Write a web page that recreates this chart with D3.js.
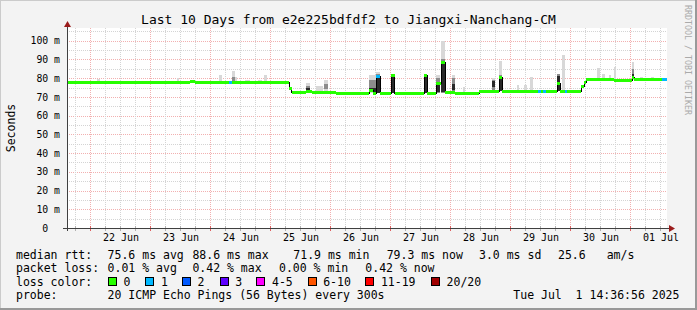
<!DOCTYPE html>
<html>
<head>
<meta charset="utf-8">
<script src="https://cdn.jsdelivr.net/npm/d3@7"></script>
<style>
body { margin: 0; background: #fff; }
svg text { font-family: "DejaVu Sans Mono", monospace; white-space: pre; }
</style>
</head>
<body>
<script>
let width = 697
let height = 310

let title = "Last 10 Days from e2e225bdfdf2 to Jiangxi-Nanchang-CM"
let startTime = new Date(2025, 5, 21, 14, 36, 56)
let endTime = new Date(2025, 6, 1, 14, 36, 56)

// median rtt (ms), step changes: [hours after start, value]
let medianSteps = [
    [0, 77.8], [49.2, 78.3], [51.2, 77.8], [88.9, 74.7], [89.9, 72.4],
    [95.6, 73.4], [98, 72.4], [107.6, 72.0], [120.8, 73.8], [122.4, 72.2],
    [123.6, 81.0], [125.2, 72.2], [129.6, 81.6], [131, 72.2], [142.9, 81.5],
    [144.1, 72.3], [147.6, 77.4], [149.6, 88.8], [151.2, 72.4], [155, 71.9],
    [164.8, 73.4], [171, 73.1], [172.9, 80.5], [174.1, 73.1], [196, 77.5],
    [197.3, 73.3], [205.6, 75.7], [206.8, 77.9], [207.6, 79.7], [218.8, 79.1],
    [226, 80.7], [226.9, 79.5], [240, 79.5]
]

// hours with lost pings: [from, to, loss colour index]
let lossRuns = [
    [64.9, 66.1, 1], [123.6, 125.2, 1], [188.3, 189.6, 1],
    [190.4, 191.6, 1], [199.3, 200, 1], [238, 240, 1]
]

// smoke: [from, to, min, max, mid lo, mid hi, dark lo, dark hi]
let smoke = [
    [11.9, 13.2, 77, 79.3], [19.2, 20, 77, 78.6], [30.4, 31.6, 77, 78.6],
    [43.9, 44.9, 77, 79.9], [51.9, 53.2, 77, 78.7], [60.9, 62.1, 77, 81.9],
    [65.9, 67.2, 77, 83.6, 78, 80.5], [67.2, 68, 77, 80.5], [71.2, 73.2, 77, 79],
    [76.4, 78, 77, 79], [78.9, 80.1, 77, 81.5],
    [95.6, 97, 72, 77.6, 72.8, 76, 73, 74.5], [99.6, 102.4, 72, 75.8],
    [102.8, 104.2, 72, 78.8, 74, 77],
    [120.8, 123.6, 72, 81.7, 72.5, 79, 72.5, 75],
    [123.6, 125.2, 72, 83.3, 72, 82, 72.3, 80.4],
    [129.6, 131, 72, 82.2, 72, 82.2, 72.3, 81.4],
    [142.9, 144.1, 72, 81.9, 72, 81.9, 72.3, 81.3],
    [147.6, 149.2, 72, 81.7, 72.2, 80, 72.4, 77.2],
    [149.6, 151.2, 72, 99.8, 72.2, 90, 72.4, 88.5],
    [154, 155.2, 72, 81.7, 72.5, 80, 73.5, 77],
    [158.3, 159.2, 72, 75.3],
    [169.9, 171.1, 73, 80, 73.5, 79, 75.5, 78.5],
    [172.9, 174.1, 73, 89, 73, 81.5, 73.3, 80],
    [179.9, 180.8, 73, 76.2], [182.8, 183.9, 73, 76.4], [185.2, 186.3, 73, 80.6],
    [196, 197.3, 73, 82.2, 73, 82.2, 73.2, 81],
    [198, 199.2, 73, 92.5],
    [212, 213.2, 79, 85.4], [214, 215.2, 79, 82.4], [216.8, 217.7, 79, 81.8],
    [218.8, 219.7, 79, 86],
    [226, 226.9, 79, 88.6, 79.3, 85, 79.5, 82.5],
    [229.2, 230.3, 79, 80.5], [233.6, 234.7, 79, 80.4]
]

let lossLabels = ["0", "1", "2", "3", "4-5", "6-10", "11-19", "20/20"]
let lossColors = ["#26ff00", "#00b8ff", "#0059ff", "#5e00ff", "#ff00ff", "#ff5500", "#ff0000", "#a00000"]
let rttStats = ["75.6 ms avg", "88.6 ms max", "71.9 ms min", "79.3 ms now", "3.0 ms sd", "25.6", "am/s"]
let lossStats = ["0.01 % avg", "0.42 % max", "0.00 % min", "0.42 % now"]
let probeText = "20 ICMP Echo Pings (56 Bytes) every 300s"
let stampText = "Tue Jul  1 14:36:56 2025"

let hourToDate = h => new Date(startTime.getTime() + h * 3600e3)

let svg = d3.select("body")
    .append("svg")
    .attr("width", width)
    .attr("height", height)

// background + 3d frame
svg.append("rect").attr("width", width).attr("height", height).attr("fill", "#f3f3f3")
svg.append("path").attr("d", `M0,${height} V0 H${width}`).attr("fill", "none")
    .attr("stroke", "#cbcbcb").attr("stroke-width", 2)
svg.append("path").attr("d", `M0,${height - 1} H${width - 1} V0`).attr("fill", "none")
    .attr("stroke", "#999").attr("stroke-width", 2)

let x = d3.scaleTime().domain([startTime, endTime]).range([67, 667])
let y = d3.scaleLinear().domain([0, 106.8]).range([228, 28])

svg.append("rect").attr("x", 67).attr("y", 28).attr("width", 600).attr("height", 200).attr("fill", "#fff")

let grid = svg.append("g").attr("shape-rendering", "crispEdges")
let minorCol = "#d4d4d4", majorCol = "#f2b0b0"

d3.range(5, 106, 5).forEach(v => {
    let yy = Math.round(y(v)) + 0.5
    grid.append("line").attr("x1", 67).attr("x2", 667).attr("y1", yy).attr("y2", yy)
        .attr("stroke", v % 10 == 0 ? majorCol : minorCol).attr("stroke-dasharray", "1,1")
})
d3.timeHour.every(6).range(startTime, endTime).forEach(t => {
    let xx = Math.round(x(t)) + 0.5
    let major = t.getHours() == 0
    grid.append("line").attr("x1", xx).attr("x2", xx).attr("y1", 28).attr("y2", 228)
        .attr("stroke", major ? majorCol : minorCol).attr("stroke-dasharray", "1,1")
    grid.append("line").attr("x1", xx).attr("x2", xx).attr("y1", 226).attr("y2", 231)
        .attr("stroke", major ? "#e06060" : "#b0b0b0")
})

// smoke
let sm = svg.append("g").attr("shape-rendering", "crispEdges")
smoke.forEach(d => {
    let x0 = x(hourToDate(d[0])), x1 = x(hourToDate(d[1]))
    let layer = (lo, hi, col) => sm.append("rect")
        .attr("x", x0).attr("width", x1 - x0)
        .attr("y", y(hi)).attr("height", y(lo) - y(hi)).attr("fill", col)
    layer(d[2], d[3], "#d8d8d8")
    if (d.length > 4) layer(d[4], d[5], "#8c8c8c")
    if (d.length > 6) layer(d[6], d[7], "#2a2a2a")
})

// median black line
let line = d3.line()
    .x(d => x(hourToDate(d[0])))
    .y(d => Math.round(y(d[1])) + 0.5)
    .curve(d3.curveStepAfter)
svg.append("path").datum(medianSteps).attr("d", line)
    .attr("fill", "none").attr("stroke", "#000").attr("shape-rendering", "crispEdges")

// median band coloured by loss
let breaks = Array.from(new Set(medianSteps.map(d => d[0]).concat(lossRuns.flatMap(d => [d[0], d[1]])))).sort((a, b) => a - b)
let band = svg.append("g").attr("shape-rendering", "crispEdges")
for (let i = 0; i < breaks.length - 1; i++) {
    let a = breaks[i], b = breaks[i + 1], mid = (a + b) / 2
    let med = medianSteps.filter(d => d[0] <= a).pop()[1]
    let run = lossRuns.find(r => mid >= r[0] && mid < r[1])
    band.append("rect")
        .attr("x", x(hourToDate(a))).attr("width", x(hourToDate(b)) - x(hourToDate(a)))
        .attr("y", Math.round(y(med)) - 1).attr("height", 3)
        .attr("fill", lossColors[run ? run[2] : 0])
}

// axes
let yAxis = d3.axisLeft(y)
    .tickValues(d3.range(0, 101, 10))
    .tickSize(0).tickPadding(7)
    .tickFormat(v => v == 0 ? "0  " : String(v).padStart(3, " ") + " m")
let gy = svg.append("g").attr("transform", "translate(67,0)").call(yAxis)
gy.select(".domain").remove()
gy.selectAll("text").attr("font-family", "DejaVu Sans Mono").attr("font-size", 9.8).attr("fill", "#000")

let xAxis = d3.axisBottom(x)
    .tickValues(d3.timeDay.range(new Date(2025, 5, 22), new Date(2025, 6, 2)).map(t => d3.timeHour.offset(t, 12)))
    .tickSize(0).tickPadding(6)
    .tickFormat(d3.timeFormat("%d %b"))
let gx = svg.append("g").attr("transform", "translate(0,228)").call(xAxis)
gx.select(".domain").remove()
gx.selectAll("text").attr("font-family", "DejaVu Sans Mono").attr("font-size", 10).attr("fill", "#000")

let ax = svg.append("g").attr("shape-rendering", "crispEdges")
ax.append("line").attr("x1", 67.5).attr("x2", 67.5).attr("y1", 231).attr("y2", 26).attr("stroke", "#404040")
ax.append("line").attr("x1", 63).attr("x2", 670).attr("y1", 228.5).attr("y2", 228.5).attr("stroke", "#404040")
svg.append("path").attr("d", "M64,27 L67.5,21 L71,27 Z").attr("fill", "#9b1c1c")
svg.append("path").attr("d", "M669,225 L675,228.5 L669,232 Z").attr("fill", "#9b1c1c")

// titles
svg.append("text").attr("x", 348.5).attr("y", 24).attr("text-anchor", "middle")
    .attr("font-size", 13).text(title)
svg.append("text").attr("transform", "translate(14.5,128) rotate(-90)").attr("text-anchor", "middle")
    .attr("font-size", 11.5).text("Seconds")
svg.append("text").attr("transform", "translate(685,5) rotate(90)")
    .attr("font-size", 8.3).attr("fill", "#aaa").text("RRDTOOL / TOBI OETIKER")

// legend
let leg = svg.append("g").attr("font-size", 11.5)
let put = (xx, yy, s) => leg.append("text").attr("x", xx).attr("y", yy).text(s)
let rttX = [107.6, 192.4, 293.3, 386.7, 479, 558, 606.7]
let lossX = [107.6, 192.4, 279, 365.3]
let boxX = [108, 145.3, 182, 219.6, 256.4, 307.6, 365.3, 431]

put(16, 258.5, "median rtt:")
rttStats.forEach((s, i) => put(rttX[i], 258.5, s))
put(16, 272, "packet loss:")
lossStats.forEach((s, i) => put(lossX[i], 272, s))
put(16, 285.5, "loss color:")
lossLabels.forEach((s, i) => {
    leg.append("rect").attr("x", boxX[i] + 0.5).attr("y", 277.5).attr("width", 8).attr("height", 8)
        .attr("fill", lossColors[i]).attr("stroke", "#000").attr("shape-rendering", "crispEdges")
    put(boxX[i] + 15.6, 285.5, s)
})
put(16, 299, "probe:")
put(107.6, 299, probeText)
put(513.3, 299, stampText)
</script>
</body>
</html>
